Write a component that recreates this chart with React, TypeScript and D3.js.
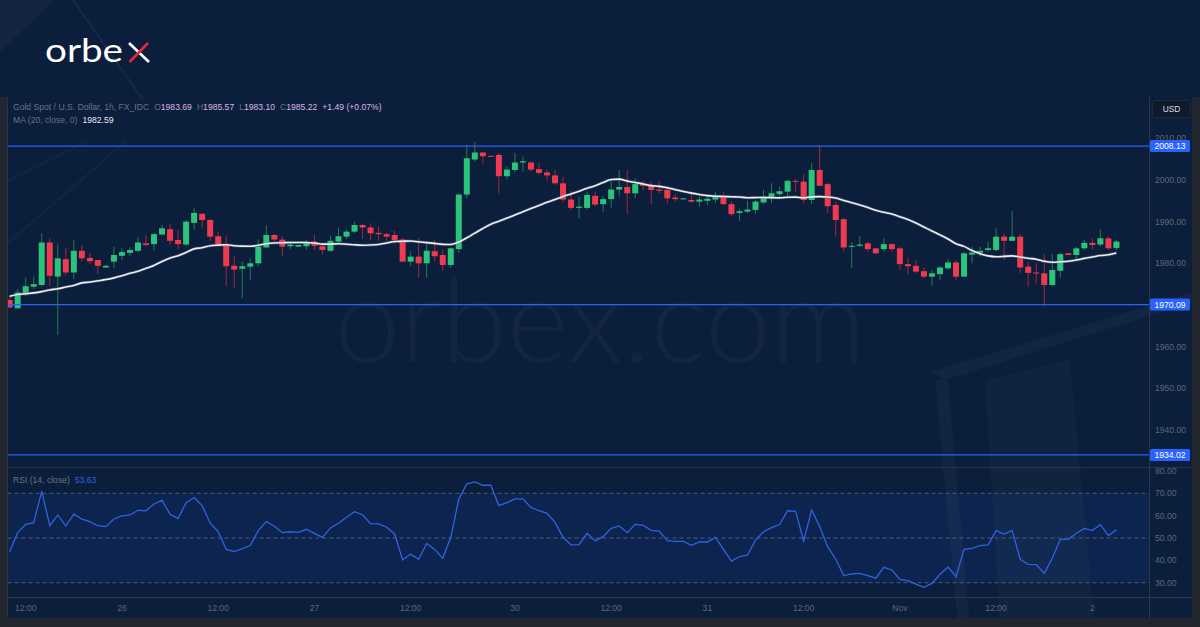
import React from "react";
import * as d3 from "d3";

// ---- Data ----
const opens = [
  1971.2, 1969.2, 1972.6, 1974.4, 1974.8, 1985.0, 1976.8, 1981.0, 1977.8, 1983.0,
  1981.3, 1980.8, 1979.0, 1980.4, 1981.8, 1982.5, 1983.0, 1984.8, 1984.6, 1986.9,
  1988.2, 1985.6, 1984.5, 1989.7, 1991.9, 1990.4, 1986.5, 1984.4, 1979.4, 1978.7,
  1979.2, 1980.0, 1983.8, 1986.8, 1985.7, 1984.1, 1984.0, 1984.1, 1985.2, 1984.1,
  1983.0, 1985.2, 1986.4, 1987.6, 1989.2, 1988.6, 1987.3, 1987.0, 1986.8, 1985.7,
  1980.4, 1981.6, 1980.0, 1982.9, 1982.0, 1979.6, 1983.4, 1996.5, 2004.9, 2006.6,
  2005.8, 2006.0, 2000.9, 2002.4, 2004.2, 2004.2, 2002.6, 2001.8, 2001.1, 1999.2,
  1995.3, 1993.3, 1993.3, 1996.2, 1994.2, 1995.4, 1997.7, 1998.3, 1996.8, 1999.0,
  1998.6, 1997.7, 1997.6, 1995.8, 1995.35, 1995.2, 1994.8, 1995.0, 1995.3, 1996.2,
  1994.2, 1992.1, 1992.4, 1992.8, 1994.6, 1995.7, 1996.6, 1997.2, 1999.8, 1999.6,
  1995.2, 2002.4, 1999.0, 1994.0, 1990.6, 1984.0, 1984.2, 1984.8, 1983.6, 1983.4,
  1984.6, 1983.6, 1979.8, 1979.4, 1978.1, 1976.8, 1977.4, 1978.8, 1980.2, 1976.8,
  1982.1, 1982.5, 1983.2, 1983.2, 1986.4, 1985.4, 1986.4, 1979.2, 1977.8, 1977.6,
  1974.8, 1978.2, 1982.4, 1982.0, 1983.6, 1984.9, 1984.5, 1986.0, 1983.69,
];
const highs = [
  1972.0, 1973.8, 1976.5, 1976.8, 1987.2, 1986.0, 1984.5, 1983.7, 1985.6, 1984.3,
  1982.5, 1980.8, 1979.7, 1984.0, 1983.6, 1983.8, 1986.4, 1986.8, 1987.3, 1989.2,
  1989.6, 1988.1, 1990.4, 1993.2, 1991.9, 1990.7, 1987.5, 1986.7, 1981.7, 1980.4,
  1981.2, 1985.7, 1989.2, 1987.0, 1986.5, 1985.2, 1984.4, 1985.6, 1986.8, 1984.8,
  1986.7, 1988.6, 1988.1, 1990.0, 1989.4, 1989.6, 1988.8, 1987.3, 1987.8, 1986.0,
  1982.9, 1986.0, 1984.6, 1985.6, 1983.3, 1983.8, 1996.8, 2008.4, 2009.2, 2006.6,
  2005.9, 2006.5, 2003.3, 2006.5, 2005.6, 2004.4, 2004.1, 2002.5, 2002.4, 2000.8,
  1997.4, 1996.0, 1997.2, 1997.2, 1996.1, 2000.0, 2002.4, 2002.4, 2000.4, 1999.8,
  1999.6, 1999.8, 1998.5, 1996.6, 1995.7, 1997.2, 1996.1, 1996.4, 1997.2, 1997.0,
  1994.8, 1993.0, 1995.0, 1995.2, 1997.6, 1999.2, 1998.4, 2000.0, 2000.2, 2001.4,
  2004.0, 2008.3, 1999.3, 1994.8, 1991.0, 1985.0, 1986.5, 1985.2, 1983.6, 1986.0,
  1984.8, 1984.0, 1981.3, 1980.8, 1979.0, 1978.4, 1979.3, 1980.9, 1980.8, 1982.8,
  1984.0, 1984.0, 1985.2, 1988.4, 1987.2, 1992.5, 1987.0, 1980.4, 1980.0, 1982.2,
  1982.2, 1982.5, 1982.4, 1984.0, 1985.6, 1986.0, 1988.1, 1986.4, 1985.57,
];
const lows = [
  1969.2, 1969.2, 1972.2, 1973.8, 1974.4, 1974.6, 1962.8, 1977.0, 1976.2, 1980.4,
  1979.8, 1977.4, 1978.9, 1978.8, 1980.8, 1981.7, 1982.7, 1984.0, 1983.0, 1986.8,
  1984.5, 1983.3, 1984.1, 1988.1, 1988.6, 1985.4, 1984.3, 1974.5, 1974.2, 1971.6,
  1976.0, 1979.3, 1983.8, 1984.6, 1981.7, 1983.4, 1984.0, 1983.3, 1983.2, 1982.2,
  1982.8, 1984.8, 1985.8, 1987.3, 1985.8, 1985.6, 1985.4, 1985.4, 1984.6, 1980.4,
  1979.3, 1976.6, 1976.6, 1980.6, 1978.2, 1978.9, 1982.5, 1995.6, 2004.5, 2004.0,
  2005.6, 1996.8, 2000.1, 2001.8, 2002.0, 2002.0, 2001.2, 1999.8, 1998.8, 1994.8,
  1992.8, 1990.8, 1992.9, 1993.6, 1992.4, 1993.4, 1996.0, 1991.8, 1995.6, 1997.6,
  1994.2, 1996.8, 1994.4, 1994.8, 1995.3, 1994.5, 1993.6, 1994.0, 1994.5, 1994.0,
  1991.3, 1990.2, 1992.1, 1992.0, 1994.2, 1994.4, 1995.6, 1996.0, 1997.2, 1994.4,
  1994.2, 1998.6, 1992.0, 1986.4, 1982.8, 1978.8, 1984.0, 1982.8, 1982.2, 1982.8,
  1982.8, 1978.4, 1977.4, 1977.6, 1976.4, 1974.6, 1976.0, 1978.4, 1976.1, 1976.8,
  1980.0, 1981.6, 1982.8, 1982.8, 1980.8, 1985.4, 1977.6, 1974.4, 1975.2, 1969.7,
  1974.4, 1976.6, 1982.0, 1980.9, 1983.2, 1983.3, 1984.0, 1983.2, 1983.10,
];
const closes = [
  1969.4, 1973.0, 1974.5, 1975.0, 1985.0, 1977.0, 1981.2, 1977.8, 1983.0, 1981.2,
  1980.5, 1979.4, 1979.4, 1982.0, 1982.7, 1983.2, 1985.0, 1984.4, 1987.0, 1988.4,
  1985.4, 1984.6, 1990.0, 1992.1, 1990.4, 1986.4, 1984.4, 1979.3, 1978.5, 1979.3,
  1980.0, 1984.0, 1986.8, 1985.7, 1984.0, 1984.5, 1984.4, 1985.0, 1984.2, 1983.2,
  1985.4, 1986.5, 1987.6, 1989.2, 1988.6, 1987.2, 1987.0, 1986.4, 1985.6, 1980.4,
  1981.6, 1980.0, 1983.0, 1981.7, 1979.6, 1983.6, 1996.5, 2005.2, 2006.6, 2005.7,
  2005.7, 2000.9, 2002.5, 2004.2, 2004.5, 2002.5, 2001.7, 2001.1, 1999.2, 1995.3,
  1993.3, 1993.6, 1996.4, 1994.1, 1995.4, 1997.7, 1998.3, 1996.8, 1999.0, 1998.6,
  1997.6, 1997.4, 1995.6, 1995.4, 1995.6, 1994.8, 1995.3, 1995.5, 1996.2, 1994.2,
  1991.8, 1992.5, 1992.9, 1994.8, 1996.0, 1996.8, 1997.3, 1999.8, 1999.6, 1995.2,
  2002.4, 1998.6, 1993.7, 1990.4, 1983.8, 1984.2, 1984.5, 1983.4, 1982.4, 1984.6,
  1983.4, 1979.8, 1979.3, 1978.0, 1976.8, 1977.6, 1979.0, 1980.2, 1976.8, 1982.4,
  1982.6, 1983.0, 1983.6, 1986.4, 1985.4, 1986.4, 1979.0, 1977.7, 1977.6, 1974.8,
  1978.4, 1982.2, 1982.0, 1983.6, 1984.9, 1984.4, 1986.0, 1983.6, 1985.22,
];
// MA(20) values for the first 19 bars (history before the window)
const maLead = [
  1972.1, 1972.5, 1972.7, 1972.9, 1973.2, 1973.6, 1973.9, 1974.3, 1974.7, 1975.3,
  1975.5, 1975.8, 1976.1, 1976.5, 1977.0, 1977.6, 1978.1, 1978.8, 1979.5,
];
const rsiValues = [
  43.9, 52.4, 56.1, 56.9, 71.0, 55.5, 60.3, 55.4, 60.7, 58.4,
  57.3, 55.5, 55.1, 58.5, 59.9, 60.3, 62.4, 62.2, 65.2, 66.9,
  60.6, 58.7, 65.8, 68.1, 64.5, 56.6, 52.8, 44.9, 43.9, 45.2,
  46.6, 53.3, 57.3, 55.4, 52.4, 52.8, 52.5, 53.9, 52.1, 50.3,
  54.5, 56.6, 59.3, 61.8, 60.4, 56.4, 56.3, 54.8, 51.8, 40.2,
  42.8, 40.5, 47.6, 44.9, 40.9, 50.3, 67.3, 74.2, 75.1, 73.6,
  73.6, 64.5, 65.8, 67.5, 67.5, 63.7, 62.2, 61.0, 57.0, 50.3,
  46.9, 47.0, 52.1, 48.7, 50.6, 54.3, 55.4, 52.4, 56.1, 55.7,
  53.4, 53.1, 48.8, 48.5, 48.5, 46.7, 48.2, 48.2, 50.3, 44.9,
  39.7, 41.7, 42.3, 49.1, 52.8, 54.6, 56.0, 62.2, 61.9, 48.7,
  62.5, 55.1, 46.1, 40.5, 33.2, 33.9, 34.2, 33.2, 32.0, 36.9,
  35.7, 31.5, 30.9, 29.4, 27.9, 29.7, 33.8, 37.0, 32.7, 44.9,
  45.4, 46.6, 46.9, 53.3, 51.8, 53.3, 40.5, 38.2, 38.1, 34.2,
  40.9, 49.4, 49.4, 52.1, 54.3, 53.3, 56.0, 51.1, 53.63,
];
const timeTickIndex = [2, 14, 26, 38, 50, 63, 75, 87, 99, 111, 123, 135];
const timeTickLabels = ["12:00", "26", "12:00", "27", "12:00", "30", "12:00", "31", "12:00", "Nov", "12:00", "2"];
const priceTicks = [2010, 2000, 1990, 1980, 1960, 1950, 1940];
const rsiTicks = [80, 70, 60, 50, 40, 30];
const rsiBands = [70, 50, 30];
const levels = [2008.13, 1970.09, 1934.02];

// ---- Layout ----
const W = 1200;
const H = 627;
const paneL = 7.5;
const axisX = 1149.5;
const paneTop = 97;
const sepY = 467.5;
const timeY = 597.5;
const bottomY = 618;

const FONT = "'Liberation Sans', Arial, sans-serif";
const GREEN = "#2bc47a";
const RED = "#ef3a4f";
const GREEN_WICK = "#1f7f55";
const RED_WICK = "#a32a3c";
const GRID_TEXT = "#5f6778";

export default function App() {
  const n = closes.length;
  const x = d3.scaleLinear().domain([0, n - 1]).range([9.66, 9.66 + 8.02 * (n - 1)]);
  const y = d3.scaleLinear().domain([1940, 2010]).range([430, 138.3]);
  const ry = d3.scaleLinear().domain([30, 70]).range([582.7, 493.3]);

  const ma = closes.map((c, i) => (i < 19 ? maLead[i] : (d3.mean(closes.slice(i - 19, i + 1)) as number)));
  const maPath = d3
    .line<number>()
    .x((_, i) => x(i))
    .y((d) => y(d))
    .curve(d3.curveMonotoneX)(ma) as string;
  const rsiPath = d3
    .line<number>()
    .x((_, i) => x(i))
    .y((d) => ry(d))(rsiValues) as string;

  const bodyW = 6;

  return (
    <div style={{ position: "fixed", left: 0, top: 0, width: W, height: H, overflow: "hidden" }}>
      <svg width={W} height={H} viewBox={`0 0 ${W} ${H}`} style={{ display: "block" }} fontFamily={FONT}>
        <defs>
          <clipPath id="mainClip">
            <rect x={paneL} y={paneTop} width={axisX - paneL} height={sepY - paneTop} />
          </clipPath>
          <clipPath id="rsiClip">
            <rect x={paneL} y={sepY} width={axisX - paneL} height={timeY - sepY} />
          </clipPath>
        </defs>
        {/* outer background */}
        <rect x={0} y={0} width={W} height={H} fill="#0b1e3b" />
        {/* decorative streaks */}
        <polygon points="0,0 54,0 0,52" fill="#ffffff" opacity={0.035} />
        <line x1={73} y1={0} x2={143} y2={100} stroke="#ffffff" strokeOpacity={0.05} strokeWidth={2} />
        {/* background streaks inside chart */}
        <line x1={0} y1={250} x2={127} y2={140} stroke="#ffffff" strokeOpacity={0.03} strokeWidth={2} />
        <line x1={0} y1={185} x2={90} y2={140} stroke="#ffffff" strokeOpacity={0.03} strokeWidth={2} />
        <polygon points="930,372 1200,290 1200,300 945,380" fill="#ffffff" opacity={0.03} />
        <polygon points="935,380 958,627 970,627 948,380" fill="#ffffff" opacity={0.03} />
        <polygon points="985,380 1000,627 1095,627 1070,360" fill="#ffffff" opacity={0.025} />
        {/* watermark */}
        <text x={600} y={362} textAnchor="middle" fontFamily="Lato, 'Open Sans', sans-serif" fontWeight={300} fontSize={118} fill="#ffffff" fillOpacity={0.035}>
          orbex.com
        </text>
        {/* RSI band */}
        <rect x={paneL} y={ry(70)} width={axisX - paneL} height={ry(30) - ry(70)} fill="#2962ff" fillOpacity={0.1} />
        {rsiBands.map((v) => (
          <line key={v} x1={paneL} x2={axisX} y1={ry(v)} y2={ry(v)} stroke="#6d7484" strokeOpacity={0.7} strokeDasharray="4,3" />
        ))}
        {/* candles */}
        <g clipPath="url(#mainClip)">
          {closes.map((c, i) => {
            const up = c >= opens[i];
            const top = y(Math.max(opens[i], c));
            const bot = y(Math.min(opens[i], c));
            return (
              <g key={i}>
                <line x1={x(i)} x2={x(i)} y1={y(highs[i])} y2={y(lows[i])} stroke={up ? GREEN_WICK : RED_WICK} strokeWidth={1} />
                <rect x={x(i) - bodyW / 2} y={top} width={bodyW} height={Math.max(1, bot - top)} fill={up ? GREEN : RED} />
              </g>
            );
          })}
          <path d={maPath} fill="none" stroke="#6f7788" strokeOpacity={0.45} strokeWidth={3} />
          <path d={maPath} fill="none" stroke="#eceef3" strokeWidth={1.6} />
          {levels.map((l) => (
            <line key={l} x1={paneL} x2={axisX} y1={y(l)} y2={y(l)} stroke="#2962ff" strokeWidth={1.3} />
          ))}
        </g>
        {/* RSI line */}
        <g clipPath="url(#rsiClip)">
          <path d={rsiPath} fill="none" stroke="#2f63e0" strokeWidth={1.3} />
        </g>
        {/* pane borders */}
        <line x1={paneL} x2={paneL} y1={paneTop} y2={bottomY} stroke="#2a3244" />
        <line x1={axisX} x2={axisX} y1={paneTop} y2={bottomY} stroke="#2f3749" />
        <line x1={paneL} x2={1192} y1={sepY} y2={sepY} stroke="#2a3244" />
        <line x1={paneL} x2={1192} y1={timeY} y2={timeY} stroke="#2f3749" />
        {/* price axis labels */}
        {priceTicks.map((p) => (
          <text key={p} x={1155} y={y(p) + 3} fontSize={8.6} fill={GRID_TEXT}>
            {d3.format(".2f")(p)}
          </text>
        ))}
        {levels.map((l) => (
          <g key={"lab" + l}>
            <rect x={1150} y={y(l) - 6} width={40} height={12} rx={1.5} fill="#2962ff" />
            <text x={1170} y={y(l) + 3.2} textAnchor="middle" fontSize={8.6} fill="#ffffff">
              {d3.format(".2f")(l)}
            </text>
          </g>
        ))}
        {/* RSI axis labels */}
        {rsiTicks.map((v) => (
          <text key={v} x={1155} y={ry(v) + 3} fontSize={8.6} fill={GRID_TEXT}>
            {d3.format(".2f")(v)}
          </text>
        ))}
        {/* time labels */}
        {timeTickIndex.map((ti, k) => (
          <text key={k} x={x(ti)} y={611} textAnchor="middle" fontSize={8.6} fill={GRID_TEXT}>
            {timeTickLabels[k]}
          </text>
        ))}
        {/* USD box */}
        <rect x={1152.5} y={100.5} width={38} height={17} rx={2} fill="#101a2c" stroke="#22293a" />
        <text x={1171.5} y={112} textAnchor="middle" fontSize={8.4} fill="#d8dbe2">USD</text>
        {/* legend */}
        <text x={13} y={109.5} fontSize={8.6} fill="#6a7283">
          Gold Spot / U.S. Dollar, 1h, FX_IDC
          <tspan dx={5}>O</tspan>
          <tspan fill="#dcb6e0">1983.69</tspan>
          <tspan dx={5}>H</tspan>
          <tspan fill="#dcb6e0">1985.57</tspan>
          <tspan dx={5}>L</tspan>
          <tspan fill="#dcb6e0">1983.10</tspan>
          <tspan dx={5}>C</tspan>
          <tspan fill="#dcb6e0">1985.22</tspan>
          <tspan dx={5} fill="#dcb6e0">+1.49 (+0.07%)</tspan>
        </text>
        <text x={13} y={122.5} fontSize={8.6} fill="#6a7283">
          MA (20, close, 0)
          <tspan dx={5} fill="#e6e8ee">1982.59</tspan>
        </text>
        <text x={13} y={482.5} fontSize={8.6} fill="#6a7283">
          RSI (14, close)
          <tspan dx={5} fill="#2f63e0">53.63</tspan>
        </text>
        {/* gray screenshot frame */}
        <rect x={0} y={paneTop} width={7} height={H - paneTop} fill="#22262f" />
        <rect x={1192} y={paneTop} width={8} height={H - paneTop} fill="#22262f" />
        <rect x={0} y={bottomY} width={W} height={H - bottomY} fill="#22262f" />
        {/* logo */}
        <text x={45} y={62} fontFamily="Lato, 'Open Sans', sans-serif" fontSize={33} fill="#ffffff" textLength={78} lengthAdjust="spacingAndGlyphs">
          orbe
        </text>
        <line x1={129} y1={43} x2={149} y2={62} stroke="#ffffff" strokeWidth={2.6} />
        <line x1={148} y1={43} x2={129.5} y2={62} stroke="#e8283a" strokeWidth={2.6} />
      </svg>
    </div>
  );
}
